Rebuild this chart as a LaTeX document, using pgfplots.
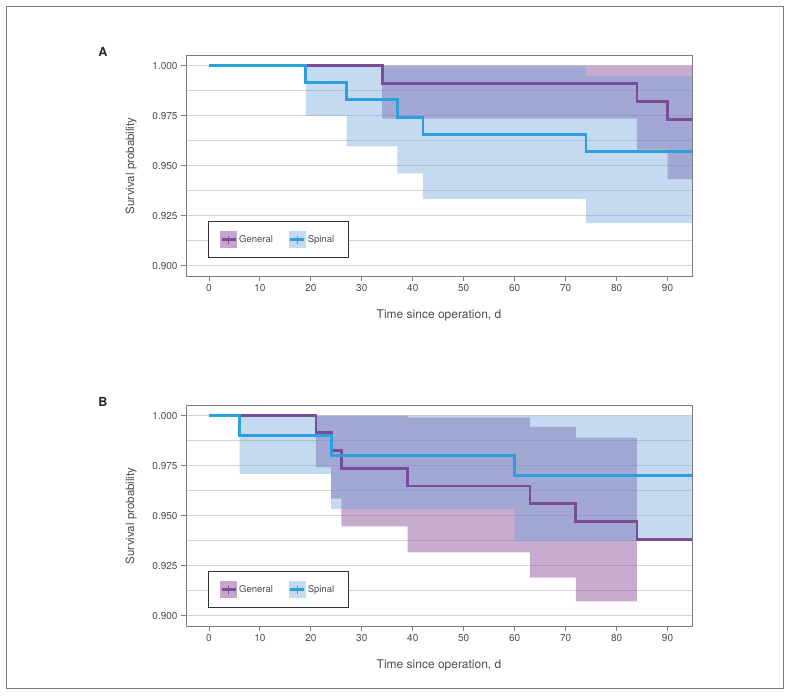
\documentclass[border=0pt]{standalone}
\usepackage{fontspec}
\setmainfont{TeX Gyre Heros}
\usepackage{pgfplots}
\pgfplotsset{compat=1.18}

\definecolor{genline}{RGB}{120,78,152}
\definecolor{spiline}{RGB}{44,160,221}
\definecolor{genfill}{RGB}{145,89,159}
\definecolor{spifill}{RGB}{108,162,218}
\definecolor{genleg}{RGB}{196,166,204}
\definecolor{spileg}{RGB}{196,218,240}
\definecolor{gridc}{RGB}{212,212,212}
\definecolor{framec}{RGB}{125,125,125}
\definecolor{txt}{RGB}{75,75,75}

\pgfplotsset{km/.style={
  scale only axis, width=506pt, height=220.3pt,
  xmin=-4.5, xmax=94.8, ymin=0.8948, ymax=1.005,
  xtick={0,10,...,90},
  ytick={0.9,0.925,0.95,0.975,1.0},
  minor ytick={0.9125,0.9375,0.9625,0.9875},
  ymajorgrids, yminorgrids,
  major grid style={gridc, line width=1pt},
  minor grid style={gridc, line width=1pt},
  minor tick length=0pt,
  major tick length=5pt,
  tick align=outside, tick pos=left,
  axis line style={framec, line width=0.9pt},
  every tick/.style={framec, line width=0.8pt},
  yticklabel style={/pgf/number format/.cd, fixed, fixed zerofill, precision=3},
  /pgf/number format/assume math mode=true,
  ticklabel style={font=\fontsize{10}{12}\selectfont, text=txt},
  xlabel={Time since operation, d},
  ylabel={Survival probability},
  xlabel style={at={(axis description cs:0.5,-0.18)}, anchor=center, font=\fontsize{12}{14}\selectfont, text=txt},
  ylabel style={at={(axis description cs:-0.1087,0.5)}, anchor=center, font=\fontsize{11.5}{13}\selectfont, text=txt},
  legend columns=2,
  legend style={at={(axis description cs:0.0435,0.082)}, anchor=south west,
    draw=black!80, line width=0.8pt, inner xsep=12pt, inner ysep=9.5pt,
    font=\fontsize{9.5}{11}\selectfont, text=txt,
    /tikz/every even column/.append style={column sep=14pt}}
}}

\newcommand{\genimage}{%
    \fill[genleg] (0pt,-8pt) rectangle (16pt,8pt);
    \draw[genline, line width=2.6pt] (1pt,0pt) -- (15pt,0pt);
    \draw[genline, line width=1pt] (8pt,-4pt) -- (8pt,4pt);}
\newcommand{\spiimage}{%
    \fill[spileg] (0pt,-8pt) rectangle (16pt,8pt);
    \draw[spiline, line width=2.6pt] (1pt,0pt) -- (15pt,0pt);
    \draw[spiline, line width=1pt] (8pt,-4pt) -- (8pt,4pt);}

\begin{document}
\begin{tikzpicture}
\path[use as bounding box] (0,0) rectangle (790pt,-696pt);
\draw[framec, line width=1pt] (6pt,-6pt) rectangle (783pt,-688pt);

\node[font=\bfseries\fontsize{12.5}{14}\selectfont, text=black!85] at (103pt,-52pt) {A};
\node[font=\bfseries\fontsize{12.5}{14}\selectfont, text=black!85] at (103pt,-402pt) {B};

% ---------------- Panel A ----------------
\begin{axis}[km, at={(186pt,-55.7pt)}, anchor=north west]
\addplot[forget plot, draw=none, fill=genfill, fill opacity=0.5] coordinates {
 (34,1) (95,1) (95,0.9433) (90,0.9433) (90,0.958) (84,0.958) (84,0.9735) (34,0.9735)} -- cycle;
\addplot[forget plot, draw=none, fill=spifill, fill opacity=0.4] coordinates {
 (19,1) (74,1) (74,0.9948) (95,0.9948) (95,0.9213) (74,0.9213) (74,0.9333) (42,0.9333)
 (42,0.9461) (37,0.9461) (37,0.9596) (27,0.9596) (27,0.9749) (19,0.9749)} -- cycle;
\addplot[forget plot, genline, line width=2.8pt, const plot] coordinates {
 (0,1) (34,0.991) (84,0.982) (90,0.9729) (95,0.9729)};
\addplot[forget plot, spiline, line width=2.8pt, const plot] coordinates {
 (0,1) (19,0.9915) (27,0.9829) (37,0.9742) (42,0.9656) (74,0.9572) (95,0.9572)};
\addlegendimage{legend image code/.code={\genimage}}
\addlegendentry{General}
\addlegendimage{legend image code/.code={\spiimage}}
\addlegendentry{Spinal}
\end{axis}

% ---------------- Panel B ----------------
\begin{axis}[km, at={(186pt,-405.7pt)}, anchor=north west]
\addplot[forget plot, draw=none, fill=genfill, fill opacity=0.5] coordinates {
 (21,1) (39,1) (39,0.9992) (63,0.9992) (63,0.9944) (72,0.9944) (72,0.989) (84,0.989)
 (84,0.9071) (72,0.9071) (72,0.919) (63,0.919) (63,0.9316) (39,0.9316) (39,0.9447)
 (26,0.9447) (26,0.9585) (24,0.9585) (24,0.9742) (21,0.9742)} -- cycle;
\addplot[forget plot, draw=none, fill=spifill, fill opacity=0.4] coordinates {
 (6,1) (95,1) (95,0.9372) (60,0.9372) (60,0.9533) (24,0.9533) (24,0.9709) (6,0.9709)} -- cycle;
\addplot[forget plot, genline, line width=2.8pt, const plot] coordinates {
 (0,1) (21,0.9914) (24,0.9826) (26,0.9736) (39,0.9648) (63,0.956) (72,0.947) (84,0.9382) (95,0.9382)};
\addplot[forget plot, spiline, line width=2.8pt, const plot] coordinates {
 (0,1) (6,0.990) (24,0.980) (60,0.970) (95,0.970)};
\addlegendimage{legend image code/.code={\genimage}}
\addlegendentry{General}
\addlegendimage{legend image code/.code={\spiimage}}
\addlegendentry{Spinal}
\end{axis}
\end{tikzpicture}
\end{document}
